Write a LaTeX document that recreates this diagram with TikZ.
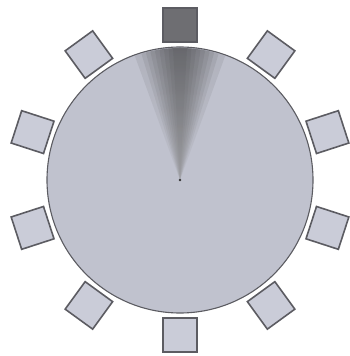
\documentclass[tikz,border=0pt]{standalone}
\usepackage{xcolor}
\usepackage{tikz}
\usetikzlibrary{positioning}

\definecolor{platefill}{RGB}{192,194,206}
\definecolor{seatfill}{RGB}{202,204,216}
\definecolor{rimline}{RGB}{92,92,98}
\definecolor{headfill}{RGB}{110,110,114}

\begin{document}
\begin{tikzpicture}[
        x=1pt, y=1pt,
        table/.style={circle, draw=rimline, line width=1.1pt, fill=platefill, minimum size=266pt, inner sep=0pt},
        seat/.style={draw=rimline, line width=1.6pt, fill=seatfill, minimum size=34pt, inner sep=0pt}
    ]
    \useasboundingbox (0,0) rectangle (350,356);
    \node[table] (table) at (180,176) {};
    % dark wedge towards the head of the table
    \begin{scope}
        \clip (table.center) circle (132);
        \foreach \a in {3,5,7,9,11,13,15,17,20}
            \shade[top color=black!80, bottom color=black!45, opacity=0.1] (table.center) -- ([shift={(90-\a:140)}]table.center) -- ([shift={(90+\a:140)}]table.center) -- cycle;
    \end{scope}
    \fill[black!80] (table.center) circle (1.3);
    % seats
    \node[seat, fill=headfill] (seat0) at ([shift={(90:155)}]table.center) {};
    \foreach \k in {1,...,9}
        \node[seat, rotate=36*\k] (seat\k) at ([shift={(90+36*\k:155)}]table.center) {};
\end{tikzpicture}
\end{document}
